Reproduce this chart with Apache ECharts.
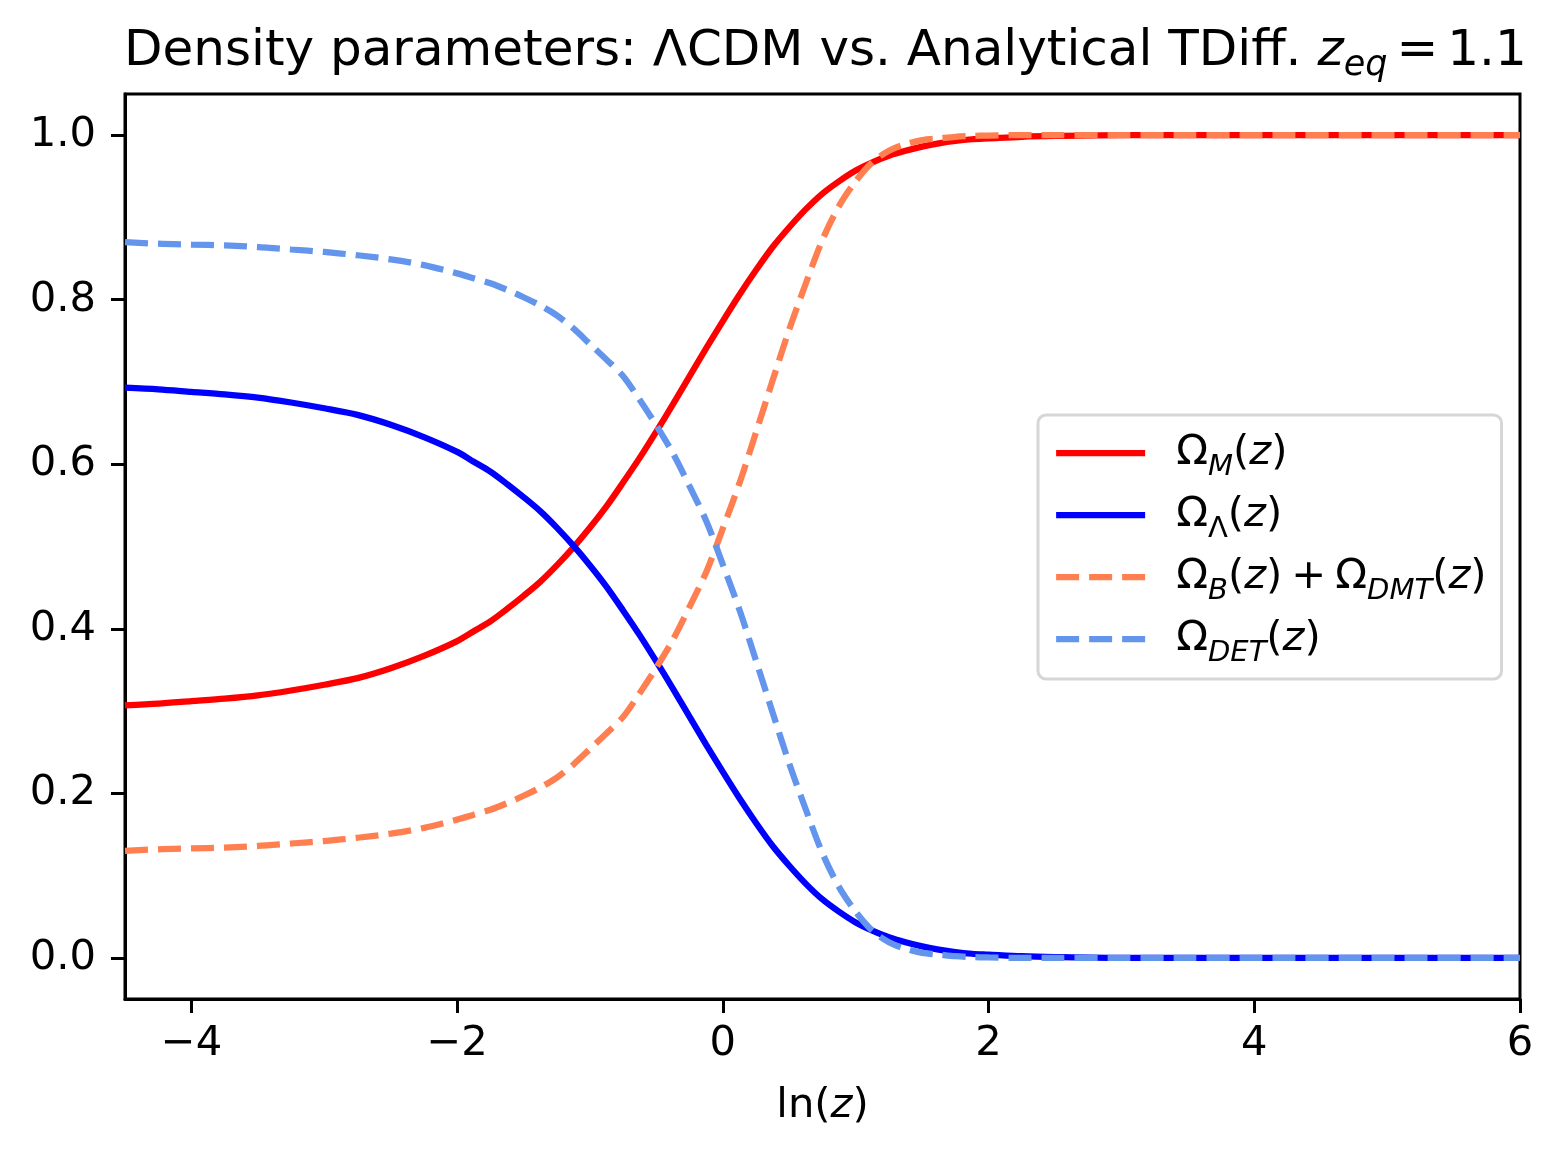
<!DOCTYPE html>
<html>
<head>
<meta charset="utf-8">
<title>Density parameters</title>
<script src="https://cdn.jsdelivr.net/npm/echarts@6/dist/echarts.min.js"></script>
<style>
  html, body { margin: 0; padding: 0; background: #fff; }
  #chart { width: 1563px; height: 1156px; }
</style>
</head>
<body>
<div id="chart"></div>
<script>
// ln(z) sample points
const lnZ = [-4.5, -4.25, -4.0, -3.75, -3.5, -3.25, -3.0, -2.75, -2.5, -2.25, -2.0,
  -1.875, -1.75, -1.625, -1.5, -1.375, -1.25, -1.125, -1.0, -0.875, -0.75,
  -0.625, -0.5, -0.375, -0.25, -0.125, 0, 0.125, 0.25, 0.375, 0.5,
  0.625, 0.75, 0.875, 1.0, 1.125, 1.25, 1.375, 1.5, 1.625, 1.75, 1.875, 2.0,
  2.25, 2.5, 3.0, 3.5, 4.0, 5.0, 6.0]

// LCDM
const omegaM = [0.307, 0.309, 0.312, 0.315, 0.319, 0.325, 0.332, 0.340, 0.352, 0.367, 0.385,
  0.397, 0.409, 0.424, 0.440, 0.457, 0.477, 0.499, 0.523, 0.549, 0.578,
  0.608, 0.640, 0.673, 0.707, 0.741, 0.774, 0.806, 0.836, 0.864, 0.888,
  0.910, 0.929, 0.944, 0.957, 0.967, 0.975, 0.981, 0.986, 0.990, 0.993, 0.995, 0.996,
  0.998, 0.999, 1, 1, 1, 1, 1]
const omegaL = [0.693, 0.691, 0.688, 0.685, 0.681, 0.675, 0.668, 0.660, 0.648, 0.633, 0.615,
  0.603, 0.591, 0.576, 0.560, 0.543, 0.523, 0.501, 0.477, 0.451, 0.422,
  0.392, 0.360, 0.327, 0.293, 0.259, 0.226, 0.194, 0.164, 0.136, 0.112,
  0.090, 0.071, 0.056, 0.043, 0.033, 0.025, 0.019, 0.014, 0.010, 0.007, 0.005, 0.004,
  0.002, 0.001, 0, 0, 0, 0, 0]

// TDiff
const omegaBDMT = [0.130, 0.132, 0.133, 0.134, 0.136, 0.139, 0.142, 0.146, 0.151, 0.158, 0.168,
  0.174, 0.180, 0.188, 0.197, 0.207, 0.219, 0.235, 0.254, 0.273, 0.293,
  0.322, 0.353, 0.387, 0.427, 0.469, 0.522, 0.577, 0.639, 0.702, 0.764,
  0.820, 0.873, 0.914, 0.944, 0.967, 0.981, 0.989, 0.994, 0.996, 0.998, 0.999, 0.9995,
  1, 1, 1, 1, 1, 1, 1]
const omegaDET = [0.870, 0.868, 0.867, 0.866, 0.864, 0.861, 0.858, 0.854, 0.849, 0.842, 0.832,
  0.826, 0.820, 0.812, 0.803, 0.793, 0.781, 0.765, 0.746, 0.727, 0.707,
  0.678, 0.647, 0.613, 0.573, 0.531, 0.478, 0.423, 0.361, 0.298, 0.236,
  0.180, 0.127, 0.086, 0.056, 0.033, 0.019, 0.011, 0.006, 0.004, 0.002, 0.001, 0.0005,
  0, 0, 0, 0, 0, 0, 0]

const xTicks = [-4, -2, 0, 2, 4, 6]
const yTicks = [0, 0.2, 0.4, 0.6, 0.8, 1.0]

const FONT = 'DejaVu Sans'
const legendNames = {
  om: '{g|}{n|Ω}{sub|M}{n|(}{it|z}{n|)}',
  ol: '{g|}{n|Ω}{subu|Λ}{n|(}{it|z}{n|)}',
  ob: '{g|}{n|Ω}{sub|B}{n|(}{it|z}{n|)}{op|+}{n|Ω}{sub|DMT}{n|(}{it|z}{n|)}',
  od: '{g|}{n|Ω}{sub|DET}{n|(}{it|z}{n|)}'
}

const pairs = ys => lnZ.map((x, i) => [x, ys[i]])

const lineSeries = (name, ys, color, dashed) => ({
  name: name,
  type: 'line',
  data: pairs(ys),
  symbol: 'none',
  smooth: 0.3,
  lineStyle: { color: color, width: 6.25, type: dashed ? [23, 10] : 'solid', cap: 'butt' },
  itemStyle: { color: color },
  emphasis: { disabled: true },
  clip: true
})

const chart = echarts.init(document.getElementById('chart'), null, { renderer: 'canvas' })

chart.setOption({
  backgroundColor: '#fff',
  animation: false,
  textStyle: { fontFamily: FONT },
  title: {
    text: 'Density parameters: ΛCDM vs. Analytical TDiff. {it|z}{sub|eq}{eq|=}{n|1.1}',
    left: 124,
    top: 22,
    padding: 0,
    textStyle: {
      fontFamily: FONT, fontSize: 50, fontWeight: 'normal', color: '#000', lineHeight: 60,
      rich: {
        it: { fontFamily: FONT, fontSize: 50, fontStyle: 'italic', color: '#000', lineHeight: 60 },
        n: { fontFamily: FONT, fontSize: 50, color: '#000', lineHeight: 60 },
        eq: { fontFamily: FONT, fontSize: 50, color: '#000', lineHeight: 60, padding: [0, 9, 0, 9] },
        sub: { fontFamily: FONT, fontSize: 35, fontStyle: 'italic', color: '#000', lineHeight: 34, verticalAlign: 'top', padding: [26, 0, 0, 0] }
      }
    }
  },
  grid: {
    left: 125, top: 94, width: 1395, height: 905,
    show: true, borderColor: '#000', borderWidth: 3, backgroundColor: 'transparent',
    containLabel: false
  },
  legend: {
    orient: 'vertical',
    left: 1038,
    top: 415,
    padding: [17, 15, 11, 15],
    itemGap: 12,
    itemWidth: 89,
    itemHeight: 20,
    borderColor: '#d6d6d6',
    borderWidth: 3,
    borderRadius: 8,
    backgroundColor: 'rgba(255,255,255,0.8)',
    selectedMode: false,
    itemStyle: { opacity: 0 },
    lineStyle: { width: 6.25 },
    data: ['om', 'ol', 'ob', 'od'],
    formatter: name => legendNames[name],
    textStyle: {
      fontFamily: FONT, fontSize: 41.7, color: '#000', lineHeight: 40,
      rich: {
        g: { width: 26, height: 40, lineHeight: 40, fontSize: 41.7 },
        n: { fontFamily: FONT, fontSize: 41.7, color: '#000', lineHeight: 40 },
        it: { fontFamily: FONT, fontSize: 41.7, fontStyle: 'italic', color: '#000', lineHeight: 40 },
        op: { fontFamily: FONT, fontSize: 41.7, color: '#000', lineHeight: 40, padding: [0, 9, 0, 9] },
        sub: { fontFamily: FONT, fontSize: 29, fontStyle: 'italic', color: '#000', lineHeight: 20, verticalAlign: 'top', padding: [20, 0, 0, 0] },
        subu: { fontFamily: FONT, fontSize: 29, color: '#000', lineHeight: 20, verticalAlign: 'top', padding: [20, 0, 0, 0] }
      }
    }
  },
  xAxis: {
    type: 'value',
    min: -4.5,
    max: 6,
    name: '{n|ln(}{it|z}{n|)}',
    nameLocation: 'middle',
    nameGap: 86,
    nameTextStyle: {
      fontFamily: FONT, fontSize: 41.7, color: '#000',
      rich: {
        n: { fontFamily: FONT, fontSize: 41.7, color: '#000' },
        it: { fontFamily: FONT, fontSize: 41.7, fontStyle: 'italic', color: '#000' }
      }
    },
    axisLine: { show: true, onZero: false, lineStyle: { color: '#000', width: 3 } },
    axisTick: { show: true, customValues: xTicks, length: 14, lineStyle: { color: '#000', width: 3 } },
    axisLabel: {
      customValues: xTicks,
      margin: 24,
      fontFamily: FONT, fontSize: 41.7, color: '#000',
      formatter: v => String(v).replace('-', '\u2212')
    },
    splitLine: { show: false }
  },
  yAxis: {
    type: 'value',
    min: -0.05,
    max: 1.05,
    axisLine: { show: true, onZero: false, lineStyle: { color: '#000', width: 3 } },
    axisTick: { show: true, customValues: yTicks, length: 14, lineStyle: { color: '#000', width: 3 } },
    axisLabel: {
      customValues: yTicks,
      margin: 29,
      fontFamily: FONT, fontSize: 41.7, color: '#000',
      formatter: v => v.toFixed(1)
    },
    splitLine: { show: false }
  },
  series: [
    lineSeries('om', omegaM, '#ff0000', false),
    lineSeries('ol', omegaL, '#0000ff', false),
    lineSeries('ob', omegaBDMT, '#ff7f50', true),
    lineSeries('od', omegaDET, '#6495ed', true)
  ]
})
</script>
</body>
</html>
